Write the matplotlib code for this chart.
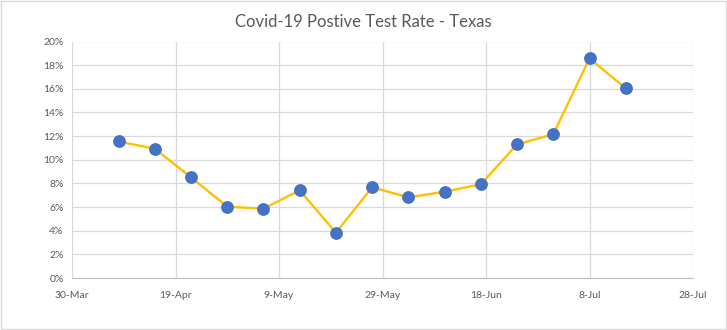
import matplotlib
matplotlib.use("Agg")
import matplotlib.pyplot as plt
import matplotlib.dates as mdates
import numpy as np
import datetime as dt

dates = ["2020-04-08", "2020-04-15", "2020-04-22", "2020-04-29", "2020-05-06",
         "2020-05-13", "2020-05-20", "2020-05-27", "2020-06-03", "2020-06-10",
         "2020-06-17", "2020-06-24", "2020-07-01", "2020-07-08", "2020-07-15"]
rates = [11.55, 10.93, 8.51, 6.03, 5.86, 7.41, 3.83, 7.67, 6.82, 7.30,
         7.92, 11.30, 12.15, 18.57, 16.04]
tick_dates = ["2020-03-30", "2020-04-19", "2020-05-09", "2020-05-29",
              "2020-06-18", "2020-07-08", "2020-07-28"]
tick_labels = ["30-Mar", "19-Apr", "9-May", "29-May", "18-Jun", "8-Jul", "28-Jul"]
y_ticks = list(range(0, 21, 2))
title = "Covid-19 Postive Test Rate - Texas"

plt.rcParams['font.family'] = ['Lato', 'DejaVu Sans']

x = [dt.datetime.strptime(d, "%Y-%m-%d") for d in dates]
xt = [dt.datetime.strptime(d, "%Y-%m-%d") for d in tick_dates]

fig = plt.figure(figsize=(7.27, 3.30), dpi=100)
ax = fig.add_axes([72/727, 52/330, 621/727, 236.5/330])
ax.plot(x, rates, color="#FFC000", lw=1.7, marker="o", markersize=8.2,
        markerfacecolor="#4472C4", markeredgecolor="#4472C4", zorder=3)

ax.set_xlim(xt[0], xt[-1])
ax.set_ylim(0, 20)
ax.set_xticks(xt)
ax.set_xticklabels(tick_labels)
ax.set_yticks(y_ticks)
ax.set_yticklabels([f"{v}%" for v in y_ticks])
ax.grid(True, color="#D9D9D9", lw=0.9)
ax.set_axisbelow(True)
for s in ["top", "right", "left"]:
    ax.spines[s].set_visible(False)
ax.spines["bottom"].set_color("#BFBFBF")
ax.tick_params(axis="both", length=0, colors="#595959", labelsize=7.5)
ax.tick_params(axis="x", pad=9)
ax.tick_params(axis="y", pad=6)

fig.text(0.5, 1 - 22/330, title, ha="center", va="center", fontsize=12, color="#595959")

border = plt.Rectangle((0.0015, 0.003), 0.997, 0.994, transform=fig.transFigure,
                       fill=False, edgecolor="#D9D9D9", lw=1)
fig.add_artist(border)

fig.savefig("out.png", dpi=100)
